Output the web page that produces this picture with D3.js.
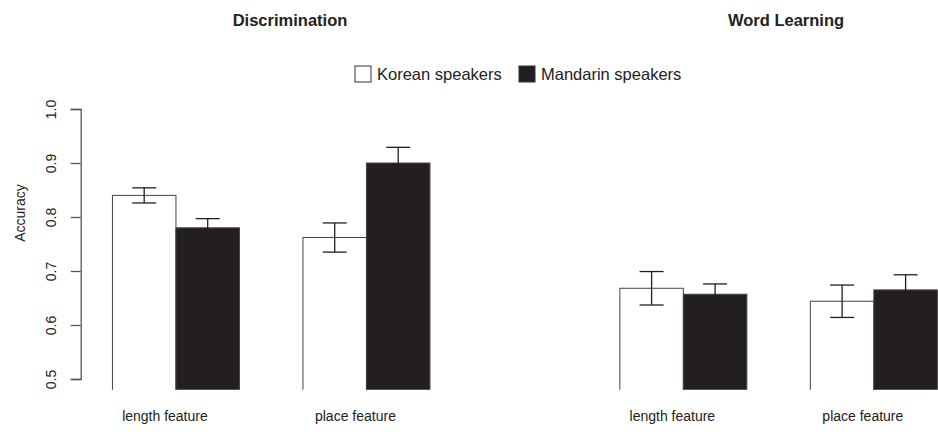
<!DOCTYPE html>
<html>
<head>
<meta charset="utf-8">
<script src="https://cdn.jsdelivr.net/npm/d3@7"></script>
<style>
  body { margin: 0; background: #fff; }
  svg { display: block; font-family: "Liberation Sans", Arial, sans-serif; }
</style>
</head>
<body>
<svg id="chart" width="938" height="434"></svg>
<script>
// values
const panels = ['Discrimination', 'Word Learning'];
const features = ['length feature', 'place feature'];
const speakers = ['Korean speakers', 'Mandarin speakers'];
const discriminationMeans = [[0.840, 0.780], [0.762, 0.900]];
const discriminationErrors = [[0.014, 0.017], [0.027, 0.029]];
const wordLearningMeans = [[0.668, 0.657], [0.644, 0.665]];
const wordLearningErrors = [[0.031, 0.019], [0.030, 0.028]];
const yTicks = [0.5, 0.6, 0.7, 0.8, 0.9, 1.0];

const fills = ['#ffffff', '#231f20'];
const svg = d3.select('#chart');

const y = d3.scaleLinear().domain([0.5, 1.0]).range([379, 109]);
const plotTop = y(1.02), plotBottom = y(0.48);

const panelLeft = [80.7, 588.1];
const panelWidth = 381;
const titleX = [290, 786];

const panelData = [
  {means: discriminationMeans, errors: discriminationErrors},
  {means: wordLearningMeans, errors: wordLearningErrors},
];

panels.forEach((title, pi) => {
  const x0 = d3.scaleBand()
    .domain(features)
    .range([panelLeft[pi], panelLeft[pi] + panelWidth])
    .paddingInner(1 / 3)
    .paddingOuter(1 / 6);
  const x1 = d3.scaleBand().domain(speakers).range([0, x0.bandwidth()]);

  svg.append('defs').append('clipPath').attr('id', `clip${pi}`)
    .append('rect')
    .attr('x', panelLeft[pi] - 10).attr('y', plotTop)
    .attr('width', panelWidth + 20).attr('height', plotBottom - plotTop);

  const g = svg.append('g');
  const rows = features.map((f, fi) => speakers.map((s, si) => ({
    feature: f, speaker: s, si,
    mean: panelData[pi].means[fi][si],
    err: panelData[pi].errors[fi][si],
  }))).flat();

  g.append('g').attr('clip-path', `url(#clip${pi})`)
    .selectAll('rect').data(rows).join('rect')
    .attr('x', (d) => x0(d.feature) + x1(d.speaker))
    .attr('y', (d) => y(d.mean))
    .attr('width', x1.bandwidth())
    .attr('height', (d) => y(0.3) - y(d.mean))
    .attr('fill', (d) => fills[d.si])
    .attr('stroke', '#444')
    .attr('stroke-width', 1);

  // error bars share the dark fill, so the lower half vanishes on dark bars
  const eb = g.selectAll('.err').data(rows).join('g').attr('class', 'err')
    .attr('stroke', fills[1])
    .attr('stroke-width', 1.3);
  const cx = (d) => x0(d.feature) + x1(d.speaker) + x1.bandwidth() / 2;
  eb.append('line')
    .attr('x1', cx).attr('x2', cx)
    .attr('y1', (d) => y(d.mean - d.err)).attr('y2', (d) => y(d.mean + d.err));
  eb.append('line')
    .attr('x1', (d) => cx(d) - 12).attr('x2', (d) => cx(d) + 12)
    .attr('y1', (d) => y(d.mean + d.err)).attr('y2', (d) => y(d.mean + d.err));
  eb.append('line')
    .attr('x1', (d) => cx(d) - 12).attr('x2', (d) => cx(d) + 12)
    .attr('y1', (d) => y(d.mean - d.err)).attr('y2', (d) => y(d.mean - d.err));

  // category labels
  g.selectAll('.cat').data(features).join('text')
    .attr('class', 'cat')
    .attr('x', (d) => x0(d) + x0.bandwidth() / 2 - 11)
    .attr('y', 421)
    .attr('text-anchor', 'middle')
    .attr('font-size', 14)
    .attr('fill', '#222')
    .text((d) => d);

  svg.append('text')
    .attr('x', titleX[pi]).attr('y', 26)
    .attr('text-anchor', 'middle')
    .attr('font-size', 16.5)
    .attr('font-weight', 'bold')
    .attr('fill', '#222')
    .text(title);
});

// y axis on the left panel only
const axis = svg.append('g')
  .attr('transform', `translate(${panelLeft[0]},0)`)
  .call(d3.axisLeft(y).tickValues(yTicks).tickFormat(d3.format('.1f')).tickSize(10));
axis.select('.domain').attr('stroke', '#555').attr('stroke-width', 1.3);
axis.selectAll('.tick line').attr('stroke', '#555').attr('stroke-width', 1.3);
axis.selectAll('.tick text')
  .attr('font-size', 14)
  .attr('fill', '#222')
  .attr('transform', 'rotate(-90)')
  .attr('x', 0).attr('y', -30)
  .attr('dy', '0.35em')
  .attr('text-anchor', 'middle');

svg.append('text')
  .attr('transform', 'translate(20,213) rotate(-90)')
  .attr('text-anchor', 'middle')
  .attr('dy', '0.35em')
  .attr('font-size', 14)
  .attr('fill', '#222')
  .text('Accuracy');

// legend
const legendX = [355, 519];
const legend = svg.selectAll('.legend').data(speakers).join('g')
  .attr('class', 'legend')
  .attr('transform', (d, i) => `translate(${legendX[i]},66)`);
legend.append('rect')
  .attr('width', 16).attr('height', 16)
  .attr('fill', (d, i) => fills[i])
  .attr('stroke', '#333').attr('stroke-width', 1);
legend.append('text')
  .attr('x', 22).attr('y', 14)
  .attr('font-size', 16.5)
  .attr('fill', '#222')
  .text((d) => d);
</script>
</body>
</html>
